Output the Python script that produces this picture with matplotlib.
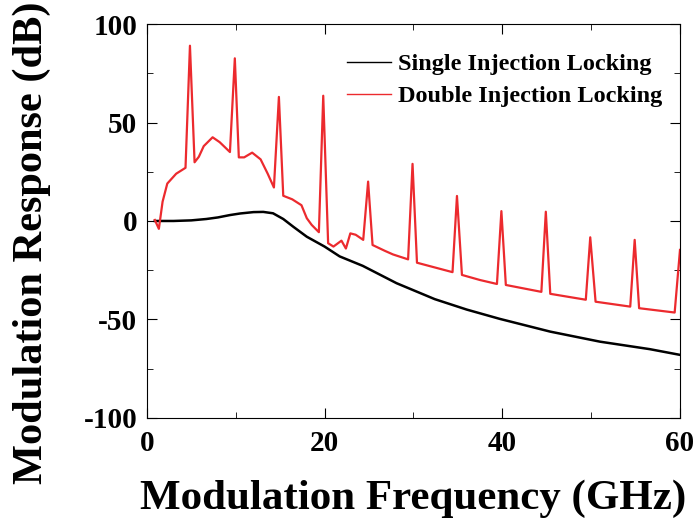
import numpy as np
import matplotlib.pyplot as plt
from matplotlib.ticker import MultipleLocator

plt.rcParams['font.family'] = ['Liberation Serif', 'DejaVu Serif']
plt.rcParams['font.weight'] = 'bold'
plt.rcParams['axes.unicode_minus'] = False

# single injection locking response
f_single = [0.9, 3, 5, 6.7, 8, 9.35, 10.5, 12, 13.1, 14.2, 15.35, 16.5, 18, 20,
            21.7, 24.3, 28.1, 32.4, 36, 39.7, 45.4, 51, 56.6, 60]
r_single = [0, 0, 0.3, 1, 1.8, 3, 3.8, 4.5, 4.6, 3.9, 1, -3, -8, -13,
            -18, -22.8, -31.6, -39.7, -45, -49.7, -56.2, -61.3, -65.1, -68]

# double injection locking response
f_double = [0.9, 1.35, 1.77, 2.3, 3.3, 4.35, 4.85, 5.37, 5.85, 6.4, 7.4, 8.2, 9.35,
            9.9, 10.35, 10.95, 11.85, 12.8, 13.6, 14.3, 14.86, 15.35, 16.36, 17.4,
            18, 18.55, 19.36, 19.85, 20.4, 21.0, 21.9, 22.4, 22.9, 23.5, 24.35,
            24.9, 25.4, 26.8, 27.7, 29.4, 29.9, 30.4, 34.4, 34.9, 35.46, 37.5,
            39.4, 39.9, 40.4, 44.4, 44.9, 45.4, 49.4, 49.9, 50.5, 54.4, 54.9,
            55.4, 59.4, 60]
r_double = [0.5, -4, 9.8, 19, 24, 27, 89, 29.8, 32.6, 38, 42.5, 40, 35,
            82.6, 32.3, 32.3, 34.7, 31.3, 24, 17, 63, 12.8, 11, 8,
            1.4, -2, -5.7, 63.6, -11.3, -13, -10, -14, -6.3, -7, -9.6,
            20, -12.2, -15.2, -17, -19.5, 29, -21.2, -26, 12.7, -27.4, -30,
            -32, 5, -32.5, -36, 4.7, -37, -40, -8.3, -41, -43.5, -9.6,
            -44.3, -46.5, -14.7]

fig = plt.figure(figsize=(6.96, 5.23), dpi=100)
ax = fig.add_axes([0.211, 0.201, 0.766, 0.753])

ax.plot(f_single, r_single, color='black', lw=1.8, label='Single Injection Locking')
ax.plot(f_double, r_double, color='#ec2a2e', lw=1.6, label='Double Injection Locking')

ax.set_xlim(0, 60)
ax.set_ylim(-100, 100)
ax.xaxis.set_major_locator(MultipleLocator(20))
ax.xaxis.set_minor_locator(MultipleLocator(10))
ax.yaxis.set_major_locator(MultipleLocator(50))
ax.yaxis.set_minor_locator(MultipleLocator(25))
ax.tick_params(which='both', direction='in', top=True, right=True, labelsize=21)
ax.tick_params(axis='x', pad=9)
ax.tick_params(axis='y', pad=7)
ax.tick_params(which='major', length=7)
ax.tick_params(which='minor', length=4)

ax.set_xlabel('Modulation Frequency (GHz)', fontsize=31, fontweight='bold', labelpad=16)
fig.text(0.045, 0.535, 'Modulation Response (dB)', fontsize=30.5, fontweight='bold',
         rotation=90, ha='center', va='center')

leg = ax.legend(loc='upper right', bbox_to_anchor=(0.985, 0.95), frameon=False,
                fontsize=17.5, handlelength=1.8, handletextpad=0.3,
                labelspacing=0.4, borderaxespad=0)
for line in leg.get_lines():
    line.set_linewidth(1.0)

fig.savefig('out.png', dpi=100)
